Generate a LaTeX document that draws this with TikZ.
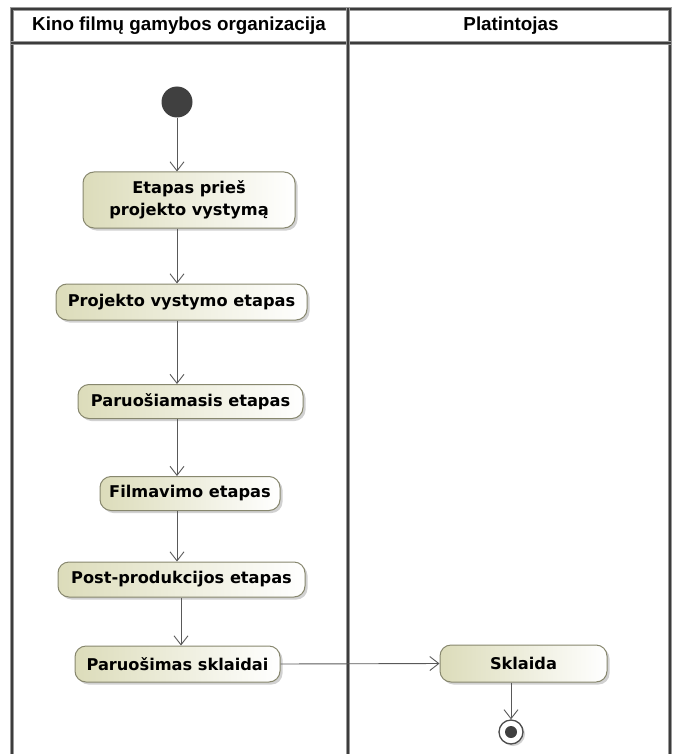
\documentclass[tikz,border=0pt]{standalone}
\usepackage{fontspec}
\setmainfont{DejaVu Sans}
\newfontfamily\headfont{Liberation Sans}
\usetikzlibrary{arrows.meta,shadows}

\definecolor{actborder}{RGB}{135,135,110}
\definecolor{actfill}{RGB}{220,220,186}
\definecolor{laneline}{RGB}{60,60,60}

\begin{document}
\begin{tikzpicture}[x=1pt,y=-1pt,
  lane/.style={draw=black!40, line width=3.4pt, line cap=rect,
    postaction={draw=laneline, line width=1.6pt}},
  act/.style={draw=actborder, line width=1pt, rounded corners=11pt,
    left color=actfill, right color=white,
    font=\fontsize{16.2}{22}\selectfont\bfseries, align=center, inner sep=0pt,
    drop shadow={shadow xshift=2.5pt, shadow yshift=-2.5pt, opacity=0.3, fill=black!60}},
  flow/.style={draw=black!65, line width=0.9pt, -{Straight Barb[length=9pt,width=14pt]}},
  hdr/.style={font=\headfont\fontsize{18.8}{20}\selectfont\bfseries}
]
\useasboundingbox (0,0) rectangle (672,754);

% swimlane frame
\draw[lane] (12,754) -- (12,9) -- (670,9) -- (670,754);
\draw[lane] (12,43) -- (670,43);
\draw[lane] (348,9) -- (348,754);
\node[hdr] (h1) at (179,26) {Kino filmų gamybos organizacija};
\node[hdr] (h2) at (511,26) {Platintojas};

% activities
\node[circle, fill=black!75, minimum size=31pt, inner sep=0pt] (init) at (177,102) {};
\node[act, minimum width=212pt, minimum height=56pt] (n1) at (189,200) {Etapas prieš\\projekto vystymą};
\node[act, minimum width=251pt, minimum height=36pt] (n2) at (181.5,302) {Projekto vystymo etapas};
\node[act, minimum width=225pt, minimum height=34pt] (n3) at (190.5,401.5) {Paruošiamasis etapas};
\node[act, minimum width=180pt, minimum height=34pt] (n4) at (190,493.5) {Filmavimo etapas};
\node[act, minimum width=247pt, minimum height=35pt] (n5) at (181.5,579.5) {Post-produkcijos etapas};
\node[act, minimum width=205pt, minimum height=36pt] (n6) at (177.5,664) {Paruošimas sklaidai};
\node[act, minimum width=167pt, minimum height=37pt] (n7) at (523.5,663.5) {Sklaida};
\node[circle, draw=black!70, fill=white, line width=1.3pt, minimum size=24pt, inner sep=0pt,
  drop shadow={shadow xshift=2pt, shadow yshift=-2pt, opacity=0.3, fill=black!60}] (fin) at (511,732) {};
\node[circle, fill=black!75, minimum size=12pt, inner sep=0pt] (fincore) at (fin) {};
\coordinate (jx) at (181,620);

% control flows
\draw[flow] (init) -- (n1.north -| init);
\draw[flow] (n1.south -| init) -- (n2.north -| init);
\draw[flow] (n2.south -| init) -- (n3.north -| init);
\draw[flow] (n3.south -| init) -- (n4.north -| init);
\draw[flow] (n4.south -| init) -- (n5.north -| init);
\draw[flow] (n5.south -| jx) -- (n6.north -| jx);
\draw[flow] (n6.east) -- (n7.west);
\draw[flow] (n7.south -| fin) -- (fin.north);
\end{tikzpicture}
\end{document}
